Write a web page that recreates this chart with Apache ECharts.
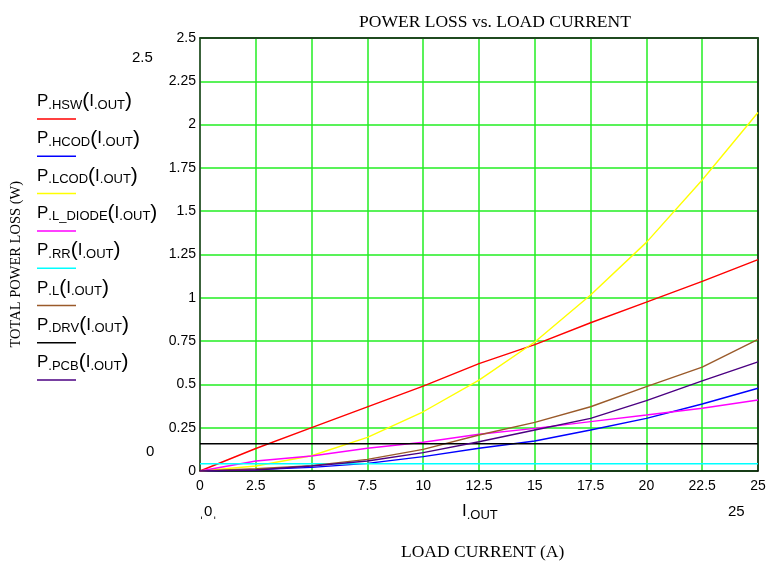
<!DOCTYPE html>
<html>
<head>
<meta charset="utf-8">
<script src="https://cdn.jsdelivr.net/npm/echarts@6/dist/echarts.min.js"></script>
<style>
  html, body { margin: 0; padding: 0; background: #fff; }
  #chart { width: 771px; height: 565px; }
</style>
</head>
<body>
<div id="chart"></div>
<script>
// load current (A)
const iout = [0, 2.5, 5, 7.5, 10, 12.5, 15, 17.5, 20, 22.5, 25];

// power loss per part (W)
const pHSW    = [0, 0.13, 0.25, 0.37, 0.49, 0.62, 0.73, 0.856, 0.975, 1.095, 1.22];
const pHCOD   = [0, 0.008, 0.021, 0.044, 0.083, 0.131, 0.173, 0.237, 0.304, 0.387, 0.478];
const pLCOD   = [0, 0.029, 0.088, 0.194, 0.342, 0.525, 0.745, 1.016, 1.32, 1.68, 2.07];
const pLDIODE = [0, 0.058, 0.087, 0.131, 0.166, 0.212, 0.246, 0.285, 0.323, 0.362, 0.41];
const pRR     = [0.042, 0.042, 0.042, 0.042, 0.042, 0.042, 0.042, 0.042, 0.042, 0.042, 0.042];
const pL      = [0, 0.013, 0.031, 0.067, 0.125, 0.208, 0.281, 0.371, 0.487, 0.6, 0.76];
const pDRV    = [0.157, 0.157, 0.157, 0.157, 0.157, 0.157, 0.157, 0.157, 0.157, 0.157, 0.157];
const pPCB    = [0, 0.006, 0.029, 0.058, 0.106, 0.169, 0.237, 0.304, 0.406, 0.52, 0.63];

const subs   = ['HSW', 'HCOD', 'LCOD', 'L_DIODE', 'RR', 'L', 'DRV', 'PCB'];
const values = [pHSW, pHCOD, pLCOD, pLDIODE, pRR, pL, pDRV, pPCB];
const colors = ['#ff0000', '#0000ff', '#ffff00', '#ff00ff', '#00ffff', '#9a5a2a', '#000000', '#4b0082'];

const chart = echarts.init(document.getElementById('chart'));

const rich = {
  a: { fontFamily: 'Liberation Sans', fontSize: 17, color: '#000' },
  s: { fontFamily: 'Liberation Sans', fontSize: 13, color: '#000', padding: [7, 0, 0, 0] },
  p: { fontFamily: 'Liberation Sans', fontSize: 21, color: '#000' }
};

const series = subs.map((s, k) => ({
  name: 'P.' + s + '(I.OUT)',
  type: 'line',
  data: iout.map((x, i) => [x, values[k][i]]),
  showSymbol: false,
  symbol: 'none',
  lineStyle: { color: colors[k], width: 1.4 },
  z: 3
}));

const legend = [];
subs.forEach((s, k) => {
  const y = 91 + k * 37.3;
  legend.push({
    type: 'text', left: 37, top: y,
    style: { text: '{a|P}{s|.' + s + '}{p|(}{a|I}{s|.OUT}{p|)}', rich: rich }
  });
  legend.push({
    type: 'line', shape: { x1: 37, y1: y + 28, x2: 76, y2: y + 28 },
    style: { stroke: colors[k], lineWidth: 1.5 }
  });
});

const option = {
  animation: false,
  title: {
    text: 'POWER LOSS vs. LOAD CURRENT',
    left: 490, top: 8, textAlign: 'center',
    textStyle: { fontFamily: 'Liberation Serif', fontSize: 17.5, fontWeight: 'normal', color: '#000' }
  },
  grid: { left: 200, right: 13, top: 38, bottom: 94 },
  xAxis: [{
    type: 'value', min: 0, max: 25, interval: 2.5,
    axisLine: { onZero: false, lineStyle: { color: '#000', width: 1.5 } },
    axisTick: { show: false },
    axisLabel: { color: '#000', fontFamily: 'Liberation Sans', fontSize: 14, margin: 8 },
    splitLine: { lineStyle: { color: '#22ee22', width: 1.5 } }
  }, {
    type: 'value', position: 'top', min: 0, max: 25, z: 2,
    axisLine: { show: true, onZero: false, lineStyle: { color: '#1f4a1f', width: 2 } },
    axisTick: { show: false }, axisLabel: { show: false }, splitLine: { show: false }
  }],
  yAxis: [{
    type: 'value', min: 0, max: 2.5, interval: 0.25,
    axisLine: { show: true, onZero: false, lineStyle: { color: '#333', width: 1.5 } },
    axisTick: { show: false },
    axisLabel: { color: '#000', fontFamily: 'Liberation Sans', fontSize: 14, margin: 4 },
    splitLine: { lineStyle: { color: '#22ee22', width: 1.5 } }
  }, {
    type: 'value', position: 'right', min: 0, max: 2.5, z: 2,
    axisLine: { show: true, onZero: false, lineStyle: { color: '#111', width: 1.5 } },
    axisTick: { show: false }, axisLabel: { show: false }, splitLine: { show: false }
  }],
  graphic: legend.concat([
    {
      type: 'text', left: 9, top: 181, rotation: Math.PI / 2,
      style: { text: 'TOTAL POWER LOSS (W)', fontFamily: 'Liberation Serif', fontSize: 14.5, fill: '#000' }
    },
    {
      type: 'text', left: 401, top: 543,
      style: { text: 'LOAD CURRENT (A)', fontFamily: 'Liberation Serif', fontSize: 17.5, fill: '#000' }
    },
    { type: 'text', left: 132, top: 50, style: { text: '2.5', fontFamily: 'Liberation Sans', fontSize: 15, fill: '#000' } },
    { type: 'text', left: 146, top: 444, style: { text: '0', fontFamily: 'Liberation Sans', fontSize: 15, fill: '#000' } },
    { type: 'text', left: 199, top: 504, style: { text: 'ˌ0ˌ', fontFamily: 'Liberation Sans', fontSize: 15, fill: '#000' } },
    { type: 'text', left: 728, top: 504, style: { text: '25', fontFamily: 'Liberation Sans', fontSize: 15, fill: '#000' } },
    {
      type: 'text', left: 462, top: 503,
      style: { text: '{a|I}{s|.OUT}', rich: rich }
    }
  ]),
  series: series
};

chart.setOption(option);
</script>
</body>
</html>
